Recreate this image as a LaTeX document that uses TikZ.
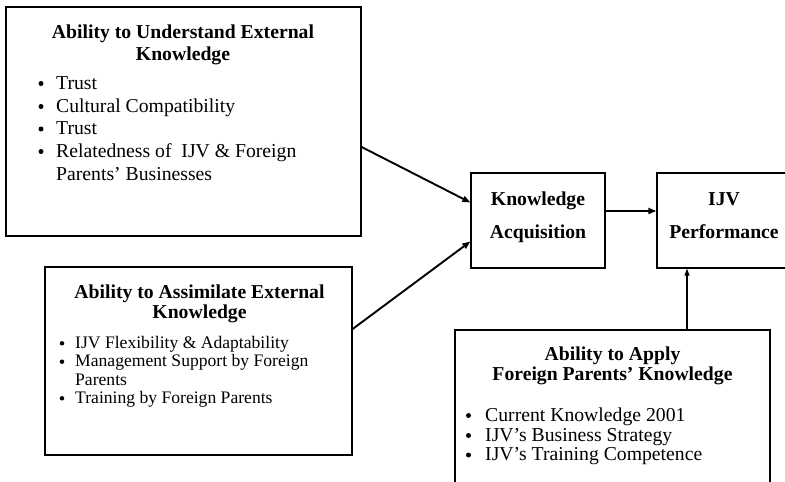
\documentclass[tikz,border=0pt]{standalone}
\usepackage{fontspec}
\setmainfont{Liberation Serif}
\usetikzlibrary{arrows.meta}
\begin{document}
\begin{tikzpicture}[x=1pt,y=-1pt,
  box/.style={draw,line width=1.3pt,inner sep=0pt},
  ttl/.style={font=\fontsize{19.7}{22}\selectfont\bfseries,anchor=base,inner sep=0pt},
  itm/.style={font=\fontsize{19.7}{22}\selectfont,anchor=base west,inner sep=0pt},
  itmsm/.style={font=\fontsize{17.6}{20}\selectfont,anchor=base west,inner sep=0pt},
  bul/.style={circle,fill,inner sep=0pt,minimum size=5pt,yshift=5.5pt},
  link/.style={line width=1.9pt,-{Triangle[length=8pt,width=6pt]}},
  thinlink/.style={line width=1.3pt,-{Triangle[length=7pt,width=5pt]}}]
\useasboundingbox (0,0) rectangle (785,482);
\clip (0,0) rectangle (785,482);

% boxes
\node[box,minimum width=355pt,minimum height=229pt] (b1) at (183.5,121.5) {};
\node[box,minimum width=307pt,minimum height=188pt] (b2) at (198.5,361) {};
\node[box,minimum width=134pt,minimum height=95pt] (ka) at (538,220.5) {};
\node[box,minimum width=133pt,minimum height=95pt] (iv) at (723.5,220.5) {};
\node[box,minimum width=315pt,minimum height=180pt] (ba) at (612.5,420) {};

% understanding external knowledge
\node[ttl] (t1a) at (183,38) {Ability to Understand External};
\node[ttl] (t1b) at (183,60) {Knowledge};
\node[bul] (p1a) at (41,89) {};
\node[itm] (i1a) at (56,89) {Trust};
\node[bul] (p1b) at (41,112) {};
\node[itm] (i1b) at (56,112) {Cultural Compatibility};
\node[bul] (p1c) at (41,134.5) {};
\node[itm] (i1c) at (56,134.5) {Trust};
\node[bul] (p1d) at (41,157) {};
\node[itm] (i1d) at (56,157) {Relatedness of \ IJV \& Foreign};
\node[itm] (i1e) at (56,180) {Parents’ Businesses};

% assimilating external knowledge
\node[ttl] (t2a) at (199.5,298) {Ability to Assimilate External};
\node[ttl] (t2b) at (199.5,318.5) {Knowledge};
\node[bul,minimum size=4.5pt,yshift=-0.5pt] (p2a) at (62,348.3) {};
\node[itmsm] (i2a) at (75,348.3) {IJV Flexibility \& Adaptability};
\node[bul,minimum size=4.5pt,yshift=-0.5pt] (p2b) at (62,366.7) {};
\node[itmsm] (i2b) at (75,366.7) {Management Support by Foreign};
\node[itmsm] (i2c) at (75,385) {Parents};
\node[bul,minimum size=4.5pt,yshift=-0.5pt] (p2d) at (62,403.3) {};
\node[itmsm] (i2d) at (75,403.3) {Training by Foreign Parents};

% acquisition and performance
\node[ttl] (kaa) at (538,205) {Knowledge};
\node[ttl] (kab) at (538,238.5) {Acquisition};
\node[ttl] (iva) at (724,205) {IJV};
\node[ttl] (ivb) at (724,238.5) {Performance};

% applying foreign parents' knowledge
\node[ttl] (t3a) at (612.5,360) {Ability to Apply};
\node[ttl] (t3b) at (612.5,380.5) {Foreign Parents’ Knowledge};
\node[bul] (p3a) at (468.5,421) {};
\node[itm] (i3a) at (485,421) {Current Knowledge 2001};
\node[bul] (p3b) at (468.5,441) {};
\node[itm] (i3b) at (485,441) {IJV’s Business Strategy};
\node[bul] (p3c) at (468.5,460.5) {};
\node[itm] (i3c) at (485,460.5) {IJV’s Training Competence};

% connectors
\draw[link] ([yshift=-25.5pt]b1.east) -- ([yshift=18pt]ka.west);
\draw[link] ([yshift=32pt]b2.east) -- ([yshift=-21pt]ka.west);
\draw[link] ([yshift=9.5pt]ka.east) -- ([yshift=9.5pt]iv.west);
\draw[thinlink] ([xshift=74.5pt]ba.north) -- ([xshift=74.5pt]ba.north |- iv.south);
\end{tikzpicture}
\end{document}
